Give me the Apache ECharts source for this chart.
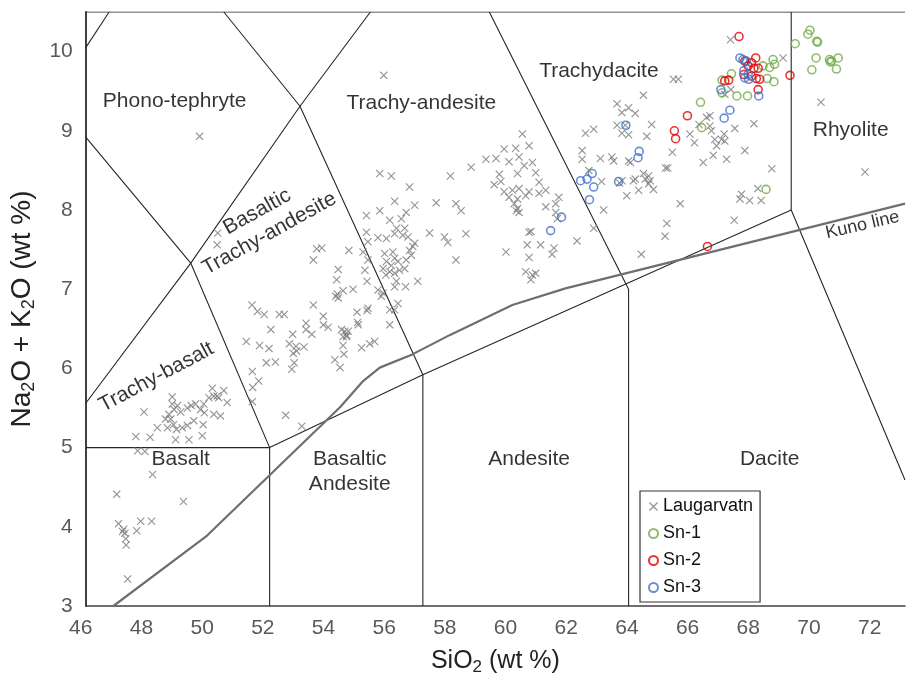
<!DOCTYPE html>
<html><head><meta charset="utf-8">
<script src="https://cdn.jsdelivr.net/npm/echarts@6/dist/echarts.min.js"></script>
<style>html,body{margin:0;padding:0;background:#fff}#c{width:908px;height:681px}</style>
</head><body><div id="c"></div>
<script>
// ---- data (SiO2 wt%, Na2O+K2O wt%) ----
const laugarvatn = [
[47.71,4.96],[47.95,4.95],[48.20,4.66],[47.02,4.41],[49.22,4.32],[47.08,4.04],[47.81,4.07],[48.17,4.07],[47.21,3.94],[47.29,3.92],[47.25,3.97],[47.68,3.95],[47.32,3.85],[47.33,3.77],[47.38,3.34],
[47.92,5.45],[48.85,5.64],[48.36,5.25],[47.65,5.14],[48.12,5.13],[48.63,5.36],[48.74,5.42],[48.91,5.48],[48.85,5.55],[49.02,5.53],[49.13,5.45],[49.35,5.50],[49.48,5.53],[49.62,5.55],[49.78,5.48],[49.89,5.55],[48.80,5.36],[48.89,5.29],[48.99,5.23],[48.69,5.25],[48.96,5.10],[49.40,5.10],[49.84,5.15],[49.18,5.25],[49.35,5.28],[49.56,5.34],[49.87,5.29],[49.91,5.44],[50.22,5.42],[50.17,5.75],[50.55,5.72],[50.38,5.63],[50.33,5.65],[50.66,5.57],[50.44,5.40],[50.06,5.63],[50.22,5.65],
[49.75,8.93],[50.35,7.71],[50.33,7.56],
[51.48,6.80],[51.66,6.72],[51.88,6.68],[52.38,6.68],[52.54,6.68],[53.50,6.80],[51.29,6.34],[51.73,6.29],[52.04,6.25],[52.10,6.49],[52.82,6.43],[53.26,6.57],[53.26,6.49],[53.45,6.43],[52.71,6.31],[52.93,6.28],[53.19,6.27],[52.84,6.19],[52.95,6.22],[51.95,6.07],[52.25,6.08],[52.87,6.07],[52.79,5.99],[51.49,5.96],[51.70,5.84],[51.50,5.76],[51.49,5.58],[52.59,5.41],[53.12,5.27],[53.50,7.37],[53.61,7.51],
[53.78,7.52],[54.67,7.49],[55.14,7.47],[54.32,7.25],[54.27,7.12],[54.81,7.00],[54.48,6.98],[54.29,6.94],[54.32,6.89],[54.24,6.91],[55.27,7.10],[53.83,6.66],[53.83,6.55],[53.99,6.52],[54.43,6.49],[54.54,6.47],[54.60,6.42],[54.65,6.47],[54.48,6.40],[54.60,6.40],[54.48,6.29],[54.51,6.18],[55.09,6.26],[55.36,6.31],[55.52,6.34],[54.21,6.11],[54.38,6.01],[55.30,6.76],[55.27,6.73],[54.94,6.71],[54.96,6.58],[54.98,6.55],[56.02,6.74],[56.18,6.74],[56.29,6.82],[56.02,6.55],
[55.30,7.60],[55.63,7.65],[55.91,7.64],[56.18,7.70],[56.45,7.68],[56.62,7.66],[56.84,7.58],[56.51,7.77],[56.24,7.77],[55.30,7.37],[55.20,7.24],
[55.85,7.45],[56.12,7.47],[56.18,7.39],[55.91,7.35],[56.07,7.30],[56.29,7.35],[56.34,7.24],[56.02,7.22],[55.80,7.26],[55.89,7.18],[56.18,7.20],[56.51,7.26],[56.56,7.37],[56.73,7.43],[56.67,7.49],[56.78,7.54],
[55.63,6.99],[55.80,6.95],[55.74,6.91],[56.24,7.10],[56.18,7.03],[56.54,7.03],[56.94,7.10],
[57.33,7.71],[57.82,7.66],[57.93,7.59],[58.53,7.70],[58.20,7.37],
[59.85,7.47],[60.55,7.56],[60.61,7.40],[60.99,7.56],[61.43,7.52],[61.37,7.44],[62.19,7.61],[60.50,7.22],[60.72,7.18],[60.83,7.20],[60.67,7.12],[60.61,7.72],[60.67,7.73],[62.74,7.77],
[55.82,9.70],[60.39,8.96],[62.47,8.97],[62.74,9.02],[62.36,8.75],[62.36,8.64],[62.58,8.50],[59.79,8.77],[60.17,8.78],[60.61,8.81],[59.95,8.61],[60.28,8.67],[60.45,8.56],[60.72,8.60],[59.19,8.64],[59.52,8.65],[58.70,8.54],[58.02,8.43],[55.69,8.46],[56.07,8.43],[59.63,8.45],[60.23,8.46],[60.83,8.47],[59.68,8.36],[60.94,8.35],[59.46,8.32],[59.79,8.23],[60.06,8.25],[60.28,8.27],[60.61,8.23],[60.94,8.21],[61.16,8.25],[59.95,8.16],[60.23,8.14],[60.50,8.18],[56.67,8.29],[56.18,8.11],[56.84,8.06],[57.55,8.09],[58.20,8.08],[58.37,7.99],[55.25,7.93],[55.69,7.99],[56.02,7.87],[56.40,7.89],[56.56,7.97],[60.23,8.02],[60.28,7.97],[61.16,8.04],[61.49,8.08],[61.59,8.16],[61.49,7.97],[61.54,7.89],[55.25,7.72],[60.12,8.08],[60.19,7.99],
[67.25,10.15],[68.98,9.92],[65.37,9.65],[65.53,9.65],[64.38,9.45],[67.26,9.52],[67.06,9.46],[63.51,9.34],[63.89,9.29],[63.67,9.23],[64.11,9.22],[63.51,9.07],[63.78,9.07],[63.67,8.97],[63.89,8.95],[64.65,9.08],[64.49,8.93],[62.96,8.65],[63.34,8.67],[63.40,8.62],[63.89,8.62],[63.95,8.60],[63.00,8.36],[63.67,8.37],[64.05,8.37],[64.11,8.39],[64.38,8.46],[64.44,8.39],[64.55,8.43],[64.60,8.37],[64.55,8.33],[64.71,8.26],[64.22,8.25],[63.83,8.18],[63.59,8.34],[65.11,8.53],[65.18,8.53],[65.33,8.73],[66.06,8.85],[65.91,8.96],[66.21,9.08],[66.46,9.17],[66.57,9.19],[66.57,9.06],[66.62,9.00],[66.73,8.89],[66.79,8.81],[66.95,8.89],[67.04,8.96],[67.06,8.87],[66.68,8.69],[67.12,8.64],[67.72,8.75],[68.02,9.09],[67.39,9.03],[66.35,8.60],[68.61,8.52],[68.15,8.27],[67.61,8.20],[67.56,8.14],[67.88,8.12],[68.26,8.12],[65.59,8.08],[65.15,7.83],[65.09,7.67],[67.37,7.87],[63.07,8.00],[70.23,9.36],[71.68,8.48],[64.31,7.44]
];
const sn1 = [[69.87,10.27],[69.80,10.22],[70.09,10.13],[70.12,10.12],[69.38,10.10],[70.07,9.92],[70.51,9.90],[70.58,9.88],[70.54,9.87],[70.80,9.92],[70.74,9.78],[69.93,9.77],[68.65,9.90],[68.70,9.84],[68.54,9.80],[68.32,9.82],[68.46,9.66],[68.68,9.62],[67.28,9.72],[66.97,9.64],[66.97,9.48],[67.46,9.44],[67.81,9.44],[66.26,9.36],[66.30,9.04],[68.42,8.26]];
const sn2 = [[67.53,10.19],[68.08,9.92],[67.94,9.86],[68.16,9.79],[68.02,9.79],[67.83,9.82],[67.72,9.88],[68.10,9.66],[67.69,9.71],[67.94,9.69],[68.21,9.65],[68.16,9.52],[67.06,9.63],[67.19,9.64],[69.21,9.70],[65.83,9.19],[65.40,9.00],[65.44,8.90],[66.49,7.54]];
const sn3 = [[67.56,9.92],[67.66,9.90],[67.77,9.88],[67.69,9.76],[67.83,9.71],[67.85,9.65],[67.72,9.67],[66.93,9.52],[68.18,9.44],[67.23,9.26],[67.04,9.16],[63.80,9.07],[64.24,8.74],[64.20,8.66],[62.69,8.46],[62.52,8.39],[62.31,8.37],[62.74,8.29],[62.60,8.13],[63.56,8.36],[61.68,7.91],[61.32,7.74]];

// TAS field boundaries as drawn (data units)
const fieldLines = [
  [[46,10.05],[46.77,10.5]],
  [[50.55,10.5],[53.06,9.31],[57.11,5.92]],
  [[46,8.92],[49.46,7.33],[52.06,5.0]],
  [[46,5.56],[49.46,7.33],[53.06,9.31],[55.38,10.5]],
  [[46,5.0],[52.06,5.0],[52.06,3]],
  [[52.06,5.0],[57.11,5.92],[69.25,8.0]],
  [[57.11,5.92],[57.11,3]],
  [[59.30,10.5],[63.89,7.0],[63.89,3]],
  [[69.25,10.5],[69.25,8.0],[73,4.59]],
  [[46,10.5],[73,10.5]]
];
const kunoLine = [[46.91,3.0],[50.0,3.89],[54.38,5.51],[55.14,5.84],[55.69,6.01],[56.78,6.18],[57.99,6.42],[60.06,6.80],[61.81,7.01],[73,8.08]];

const fieldNames = ['Phono-tephryte','Trachy-andesite','Trachydacite','Rhyolite','Basaltic\nTrachy-andesite','Trachy-basalt','Basalt','Basaltic\nAndesite','Andesite','Dacite','Kuno line'];
const fieldNamePos = [[48.93,9.38],[57.06,9.35],[62.91,9.75],[71.21,9.01],[51.85,7.84],[48.33,5.89],[49.13,4.85],[54.70,4.70],[60.61,4.85],[68.54,4.85],[71.60,7.81]];
const fieldNameRot = [0,0,0,0,29,28,0,0,0,0,13];

const seriesNames = ['Laugarvatn','Sn-1','Sn-2','Sn-3'];

const FONT = 'Liberation Sans, Arial, sans-serif';
const XSYM = 'path://M0,1L1,0L5,4L9,0L10,1L6,5L10,9L9,10L5,6L1,10L0,9L4,5Z';
const chart = echarts.init(document.getElementById('c'));
const series = [];
fieldLines.forEach(l => series.push({type:'line', data:l, symbol:'none', silent:true, animation:false,
  lineStyle:{color:'#262626', width:1.1}, z:1}));
series.push({type:'line', data:kunoLine, symbol:'none', silent:true, animation:false,
  lineStyle:{color:'#6e6e6e', width:2.2}, z:1});
series.push({name:seriesNames[0], type:'scatter', data:laugarvatn, symbol:XSYM, symbolSize:8,
  itemStyle:{color:'#7a7a7a'}, z:3});
const cols = ['#70ad47','#e00000','#4472c4'];
[sn1,sn2,sn3].forEach((d,i) => series.push({name:seriesNames[i+1], type:'scatter', data:d, symbol:'circle', symbolSize:8,
  itemStyle:{color:'rgba(255,255,255,0)', borderColor:cols[i], borderWidth:1.6}, z:4}));
series.push({type:'scatter', silent:true, symbolSize:1, itemStyle:{color:'rgba(0,0,0,0)'}, z:5,
  data: fieldNames.map((n,i) => ({value:fieldNamePos[i], name:n,
    label:{show:true, position:'inside', formatter:n, rotate:fieldNameRot[i],
      fontSize: (i === 10 ? 18 : 21), lineHeight: 25, color:'#000', textBorderWidth:0,
      fontFamily:FONT}}))
});

chart.setOption({
  animation:false,
  backgroundColor:'#fff',
  grid:{left:85, right:0, top:12, bottom:72},
  xAxis:{type:'value', min:46, max:73, interval:2,
    axisLine:{show:true, lineStyle:{color:'#404040', width:1.6}}, axisTick:{show:false}, splitLine:{show:false},
    axisLabel:{color:'#595959', fontSize:21, fontFamily:FONT, margin:12, padding:[0,10,0,0],
      formatter: v => (v % 2 === 0 ? String(v) : '')},
    name:'{m|SiO}{s|2}{m| (wt %)}', nameLocation:'middle', nameGap:40,
    nameTextStyle:{color:'#222', fontFamily:FONT,
      rich:{m:{fontSize:25, lineHeight:30, color:'#222', fontFamily:FONT}, s:{fontSize:17, lineHeight:17, verticalAlign:'bottom', color:'#222', fontFamily:FONT}}}
  },
  yAxis:{type:'value', min:3, max:10.5, interval:1,
    axisLine:{show:true, lineStyle:{color:'#404040', width:2}}, axisTick:{show:false}, splitLine:{show:false},
    axisLabel:{color:'#595959', fontSize:21, fontFamily:FONT, margin:13, padding:[10,0,0,0],
      formatter: v => (Number.isInteger(v) ? String(v) : '')},
    name:'{m|Na}{s|2}{m|O + K}{s|2}{m|O (wt %)}', nameLocation:'middle', nameGap:45,
    nameTextStyle:{color:'#222', fontFamily:FONT,
      rich:{m:{fontSize:28, lineHeight:33, color:'#222', fontFamily:FONT}, s:{fontSize:18, lineHeight:18, verticalAlign:'bottom', color:'#222', fontFamily:FONT}}}
  },
  legend:{data:seriesNames, orient:'vertical', left:640, top:491, itemWidth:9, itemHeight:9, itemGap:8,
    padding:[6,7,5,8], borderColor:'#333', borderWidth:1.2, backgroundColor:'#fff',
    textStyle:{fontSize:18, color:'#111', fontFamily:FONT, lineHeight:19}},
  series: series
});
</script></body></html>
